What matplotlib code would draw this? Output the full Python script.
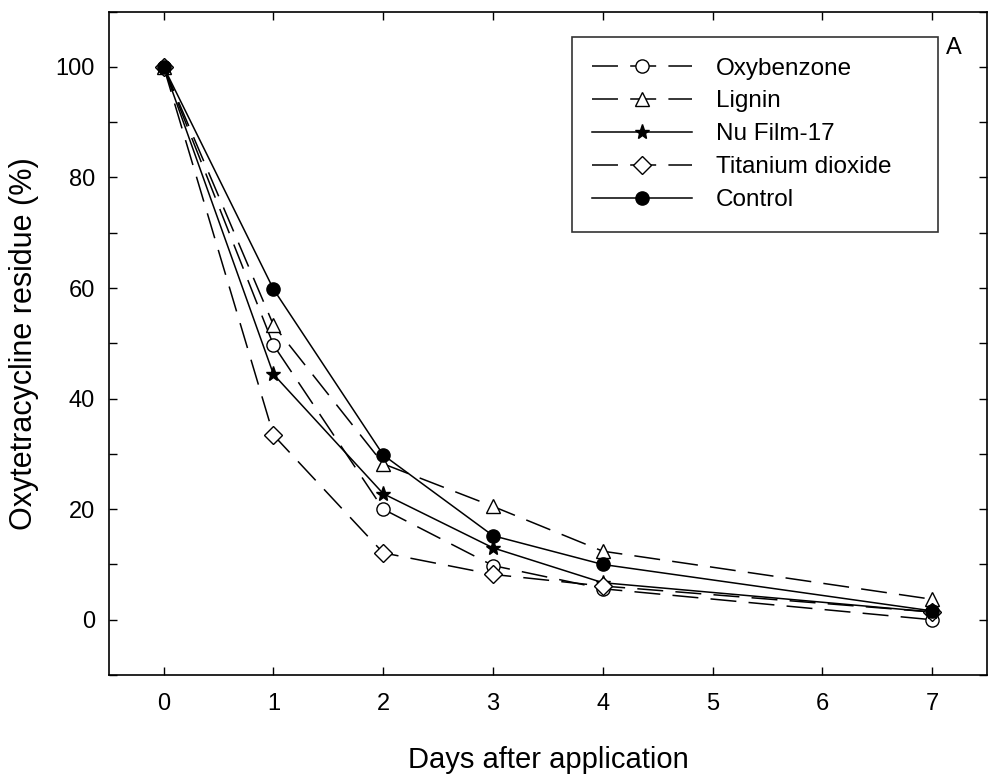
import matplotlib
matplotlib.use("Agg")
import matplotlib.pyplot as plt
from matplotlib.ticker import MultipleLocator

plt.rcParams['font.family'] = ['Liberation Sans', 'DejaVu Sans']

days = [0, 1, 2, 3, 4, 7]
oxybenzone = [100, 49.7, 20.0, 9.8, 5.6, 0.0]
lignin = [100, 53.3, 28.2, 20.5, 12.4, 3.7]
nufilm = [100, 44.4, 22.8, 13.0, 6.7, 1.4]
titanium = [100, 33.4, 12.1, 8.2, 6.1, 1.4]
control = [100, 59.8, 29.8, 15.2, 10.0, 1.6]

series = [
    ("Oxybenzone", oxybenzone, 'o', 'white', True, 9.5),
    ("Lignin", lignin, '^', 'white', True, 10),
    ("Nu Film-17", nufilm, '*', 'black', False, 11),
    ("Titanium dioxide", titanium, 'D', 'white', True, 9),
    ("Control", control, 'o', 'black', False, 9.5),
]

fig = plt.figure(figsize=(9.89, 7.75), dpi=100)
ax = fig.add_axes([0.110, 0.129, 0.888, 0.856])

for name, vals, mk, fc, dashed, ms in series:
    kw = dict(color='black', lw=1.1, marker=mk, markersize=ms,
              markerfacecolor=fc, markeredgecolor='black', markeredgewidth=1.0,
              label=name)
    line, = ax.plot(days, vals, **kw)
    if dashed:
        line.set_dashes((17, 8))

ax.set_xlim(-0.5, 7.5)
ax.set_ylim(-10, 110)
ax.set_xticks(range(0, 8))
ax.set_yticks([0, 20, 40, 60, 80, 100])
ax.yaxis.set_minor_locator(MultipleLocator(10))
ax.tick_params(which='both', direction='in', top=True, right=True,
               length=6, width=1.0, labelsize=17)
ax.tick_params(axis='x', pad=13)
ax.tick_params(axis='y', pad=10)
for s in ax.spines.values():
    s.set_linewidth(1.2)

ax.set_xlabel("Days after application", fontsize=21, labelpad=22)
ax.set_ylabel("Oxytetracycline residue (%)", fontsize=22, labelpad=12)

leg = ax.legend(loc='upper left', bbox_to_anchor=(0.527, 0.674, 0.417, 0.288),
                mode='expand',
                fontsize=17.5, frameon=True, fancybox=False, edgecolor='black',
                handlelength=4.1, handletextpad=1.0, labelspacing=0.45,
                borderpad=0.85, borderaxespad=0)
leg.get_frame().set_linewidth(1.2)

ax.text(0.962, 0.945, "A", transform=ax.transAxes, fontsize=17,
        ha='center', va='center')

fig.savefig("out.png", dpi=100)
